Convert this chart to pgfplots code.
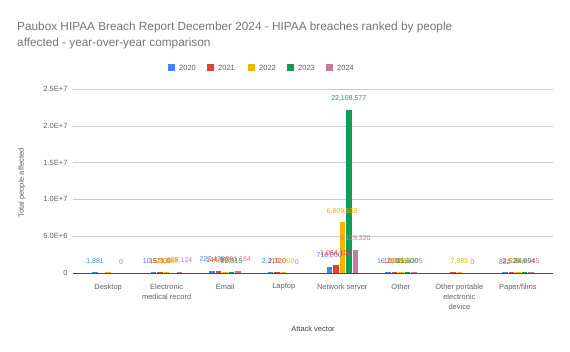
\documentclass[border=0pt]{standalone}
\usepackage{pgfplots}
\pgfplotsset{compat=1.18}
\usepackage{fontspec}
\setmainfont{Liberation Sans}
\definecolor{cA}{HTML}{4285F4}
\definecolor{cB}{HTML}{DB4437}
\definecolor{cC}{HTML}{F4B400}
\definecolor{cD}{HTML}{0F9D58}
\definecolor{cE}{HTML}{C27BA0}
\definecolor{tgray}{HTML}{757575}
\definecolor{lgray}{HTML}{616161}
\begin{document}
\begin{tikzpicture}
\useasboundingbox (0pt,0pt) rectangle (570pt,-351pt);
\node[anchor=base west, inner sep=0, text=tgray, font=\fontsize{11.8}{15}\selectfont] at (17pt,-30pt) {Paubox HIPAA Breach Report December 2024 - HIPAA breaches ranked by people};
\node[anchor=base west, inner sep=0, text=tgray, font=\fontsize{11.8}{15}\selectfont] at (17pt,-46pt) {affected - year-over-year comparison};
\foreach \x/\c/\t in {168/cA/2020, 207/cB/2021, 248/cC/2022, 287/cD/2023, 326/cE/2024} {
  \fill[\c] (\x pt,-64pt) rectangle ++(7pt,-7pt);
  \node[anchor=west, inner sep=0, text=lgray, font=\fontsize{7.5}{9}\selectfont] at (\x pt+11pt,-67.5pt) {\t};
}
\node[rotate=90, text=lgray, font=\fontsize{7.5}{9}\selectfont] at (22pt,-183pt) {Total people affected};
\node[text=black!75, font=\fontsize{7.5}{9}\selectfont] at (313pt,-329pt) {Attack vector};
\begin{axis}[
  at={(73pt,-273pt)}, anchor=south west, scale only axis,
  width=480pt, height=184pt,
  xmin=-0.6, xmax=7.6, ymin=0, ymax=2.5e7,
  ybar, bar width=4.5pt, clip=false,
  axis line style={draw=none}, tick style={draw=none},
  ymajorgrids, major grid style={draw=black!20, line width=0.5pt},
  ytick={0,5e6,1e7,1.5e7,2e7,2.5e7},
  yticklabels={0,5.0E+6,1.0E+7,1.5E+7,2.0E+7,2.5E+7},
  scaled y ticks=false,
  xtick={0,...,7},
  xticklabels={Desktop,{Electronic\\medical record},Email,Laptop,Network server,Other,{Other portable\\electronic\\device},Paper/films},
  xticklabel style={align=center, text=lgray, font=\fontsize{7.5}{10}\selectfont, yshift=-3pt},
  yticklabel style={text=lgray, font=\fontsize{7.5}{9}\selectfont, xshift=-2pt},
  nodes near coords, point meta=explicit symbolic,
  every node near coord/.append style={font=\fontsize{7}{9}\selectfont, yshift=5pt},
]
\addplot+[fill=cA, draw=cA, line width=1pt, bar shift=-13pt, every node near coord/.append style={text=cA}] table[x=x,y=y,meta=l] {
x y l
0 1881 1{,}881
1 10571 10{,}571
2 227420 227{,}420
3 2215 2{,}215
4 718000 718{,}000
5 16200 16{,}200
7 832 832
};
\addplot+[fill=cB, draw=cB, line width=1pt, bar shift=-6.5pt, every node near coord/.append style={text=cB}] table[x=x,y=y,meta=l] {
x y l
0 500 {}
1 15300 15{,}300
2 144970 144{,}970
3 2120 2{,}120
4 1084106 1{,}084{,}106
5 10311 10{,}311
6 3000 {}
7 2526 2{,}526
};
\addplot+[fill=cC, draw=cC, line width=1pt, bar shift=0pt, every node near coord/.append style={text=cC}] table[x=x,y=y,meta=l] {
x y l
0 800 {}
1 25300 25{,}300
2 49000 49{,}000
3 12000 12{,}000
4 6809558 6{,}809{,}558
5 11556 11{,}556
6 7983 7{,}983
7 2300 2{,}300
};
\addplot+[fill=cD, draw=cD, line width=1pt, bar shift=6.5pt, every node near coord/.append style={text=cD}] table[x=x,y=y,meta=l] {
x y l
2 22315 22{,}315
4 22108577 22{,}108{,}577
5 15600 15{,}600
7 24994 24{,}994
};
\addplot+[fill=cE, draw=cE, line width=1pt, bar shift=13pt, every node near coord/.append style={text=cE}] table[x=x,y=y,meta=l] {
x y l
0 0 0
1 108124 108{,}124
2 201184 201{,}184
3 0 0
4 3119320 3{,}119{,}320
5 6205 6{,}205
6 0 0
7 4945 4{,}945
};
\draw[black!70, line width=1pt] (rel axis cs:0,0) -- (rel axis cs:1,0);
\end{axis}
\end{tikzpicture}
\end{document}
